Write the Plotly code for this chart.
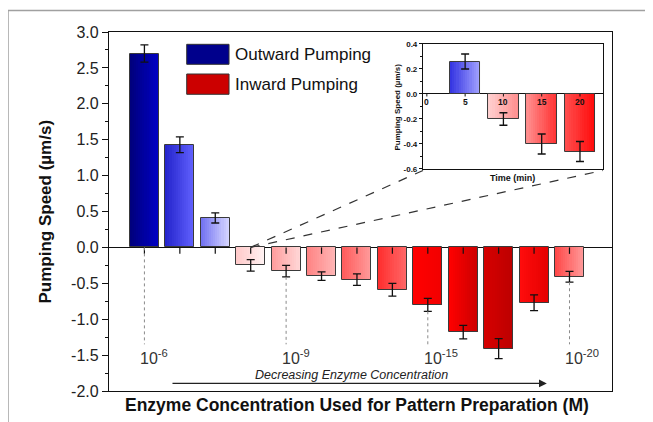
import plotly.graph_objects as go

# ---------------- data ----------------
categories = list(range(13))
speeds = [2.70, 1.43, 0.41, -0.25, -0.33, -0.40, -0.45, -0.59, -0.80, -1.18, -1.41, -0.77, -0.41]
errors = [0.12, 0.11, 0.07, 0.08, 0.08, 0.06, 0.08, 0.09, 0.09, 0.095, 0.14, 0.11, 0.075]
left_colors = ['#00007a', '#2424cc', '#7070f2', '#ffc8c8', '#ff9c9c', '#ff8282', '#ff5c5c',
               '#ff2c2c', '#ff0000', '#ff0000', '#d60000', '#ff0c0c', '#ff4646']
right_colors = ['#0000c8', '#6262ff', '#dadaff', '#fff4f4', '#ffd8d8', '#ffb8b8', '#ff9c9c',
                '#ff6a6a', '#f20000', '#cc0000', '#bc0000', '#e40000', '#ff9c9c']
label_idx = [0, 4, 8, 12]
label_text = ['10<sup>-6</sup>', '10<sup>-9</sup>', '10<sup>-15</sup>', '10<sup>-20</sup>']
y_tickvals = [-2.0, -1.5, -1.0, -0.5, 0.0, 0.5, 1.0, 1.5, 2.0, 2.5, 3.0]
y_ticktext = ['-2.0', '-1.5', '-1.0', '-0.5', '0.0', '0.5', '1.0', '1.5', '2.0', '2.5', '3.0']

inset_time = [5, 10, 15, 20]
inset_speed = [0.26, -0.20, -0.40, -0.46]
inset_err = [0.06, 0.05, 0.08, 0.08]
inset_left = ['#3232e2', '#ffd2d2', '#ff9090', '#ff5050']
inset_right = ['#a4a4ff', '#ff8c8c', '#ff3030', '#ff0808']
inset_ticks = [0, 5, 10, 15, 20]
inset_y_tickvals = [-0.6, -0.4, -0.2, 0.0, 0.2, 0.4]
inset_y_ticktext = ['-0.6', '-0.4', '-0.2', '0.0', '0.2', '0.4']

FONT = 'Liberation Sans, Arial, sans-serif'
XR = [-1.0, 13.2]
YR = [-2.0, 3.0]
XR2 = [-0.5, 23.0]
YR2 = [-0.6, 0.4]
INSET_X = [0.6243, 0.982]
INSET_Y = [0.6184, 0.9666]


def hex2rgb(h):
    h = h.lstrip('#')
    return tuple(int(h[i:i + 2], 16) for i in (0, 2, 4))


def mix(c1, c2, t):
    a, b = hex2rgb(c1), hex2rgb(c2)
    return 'rgb(%d,%d,%d)' % tuple(round(a[i] + (b[i] - a[i]) * t) for i in range(3))


def gradient_bars(fig, xs, ys, errs, lcols, rcols, bw, xa, ya, n=14):
    for k in range(n):
        t = (k + 0.5) / n
        cols = [mix(l, r, t) for l, r in zip(lcols, rcols)]
        w = bw / n * (1.7 if k < n - 1 else 1.0)
        fig.add_trace(go.Bar(x=xs, y=ys, width=w, offset=-bw / 2 + k * bw / n,
                             marker=dict(color=cols, line=dict(width=0)),
                             showlegend=False, hoverinfo='skip', xaxis=xa, yaxis=ya))
    fig.add_trace(go.Bar(x=xs, y=ys, width=bw,
                         marker=dict(color='rgba(0,0,0,0)', line=dict(color='#3a3a3a', width=1)),
                         error_y=dict(type='data', array=errs, color='#111', thickness=1.3, width=4),
                         showlegend=False, hoverinfo='skip', xaxis=xa, yaxis=ya))


fig = go.Figure()

# main bars
gradient_bars(fig, categories, speeds, errors, left_colors, right_colors, 0.82, 'x', 'y')

# small ticks on the zero line
fig.add_trace(go.Scatter(x=categories, y=[0] * len(categories), mode='markers',
                         marker=dict(size=1, color='rgba(0,0,0,0)'),
                         error_y=dict(type='data', symmetric=False, array=[0] * len(categories),
                                      arrayminus=[0.09] * len(categories), width=0,
                                      color='#111', thickness=1.2),
                         showlegend=False, hoverinfo='skip'))

# dotted guide lines to the labels
dx, dy = [], []
for i in label_idx:
    top = min(0.0, speeds[i] - errors[i])
    dx += [categories[i], categories[i], None]
    dy += [top, -1.35, None]
fig.add_trace(go.Scatter(x=dx, y=dy, mode='lines',
                         line=dict(color='#8a8a8a', width=1, dash='dot'),
                         showlegend=False, hoverinfo='skip'))

# inset bars
gradient_bars(fig, inset_time, inset_speed, inset_err, inset_left, inset_right, 4.0, 'x2', 'y2')
fig.add_trace(go.Scatter(x=inset_ticks, y=[0] * len(inset_ticks), mode='markers',
                         marker=dict(size=1, color='rgba(0,0,0,0)'),
                         error_y=dict(type='data', symmetric=False, array=[0] * len(inset_ticks),
                                      arrayminus=[0.02] * len(inset_ticks), width=0,
                                      color='#111', thickness=1),
                         showlegend=False, hoverinfo='skip', xaxis='x2', yaxis='y2'))

annotations = []
for i, txt in zip(label_idx, label_text):
    annotations.append(dict(x=categories[i], y=-1.53, xref='x', yref='y', text=txt,
                            showarrow=False, xanchor='left', xshift=-6, yanchor='middle',
                            font=dict(family=FONT, size=16, color='#333')))
annotations.append(dict(x=5.85, y=-1.78, xref='x', yref='y',
                        text='<i>Decreasing Enzyme Concentration</i>', showarrow=False,
                        xanchor='center', yanchor='middle',
                        font=dict(family=FONT, size=12.5, color='#222')))
annotations.append(dict(x=11.36, y=-1.895, ax=0.75, ay=-1.895, xref='x', yref='y',
                        axref='x', ayref='y', text='', showarrow=True, arrowhead=2,
                        arrowsize=1.3, arrowwidth=1.2, arrowcolor='#222', standoff=0))
for t in inset_ticks:
    annotations.append(dict(x=t, y=0, xref='x2', yref='y2', text='<b>%d</b>' % t,
                            showarrow=False, xanchor='center', yanchor='top', yshift=-1,
                            font=dict(family=FONT, size=8.5, color='#111')))
annotations.append(dict(x=(INSET_X[0] + INSET_X[1]) / 2, y=0.593, xref='paper', yref='paper',
                        text='<b>Time (min)</b>', showarrow=False,
                        xanchor='center', yanchor='middle',
                        font=dict(family=FONT, size=9, color='#111')))
annotations.append(dict(x=0.5745, y=(INSET_Y[0] + INSET_Y[1]) / 2, xref='paper', yref='paper',
                        text='<b>Pumping Speed (\u00b5m/s)</b>', textangle=-90, showarrow=False,
                        xanchor='center', yanchor='middle',
                        font=dict(family=FONT, size=8, color='#111')))
# axis titles
annotations.append(dict(x=-0.1272, y=0.5, xref='paper', yref='paper',
                        text='<b>Pumping Speed (\u00b5m/s)</b>', textangle=-90, showarrow=False,
                        xanchor='center', yanchor='middle',
                        font=dict(family=FONT, size=17, color='#111')))
annotations.append(dict(x=0.494, y=-0.039, xref='paper', yref='paper',
                        text='<b>Enzyme Concentration Used for Pattern Preparation (M)</b>',
                        showarrow=False, xanchor='center', yanchor='middle',
                        font=dict(family=FONT, size=17.5, color='#111')))
# legend text
annotations.append(dict(x=0.2465, y=0.9387, xref='paper', yref='paper', text='Outward Pumping',
                        showarrow=False, xanchor='left', yanchor='middle',
                        font=dict(family=FONT, size=17, color='#111')))
annotations.append(dict(x=0.2465, y=0.855, xref='paper', yref='paper', text='Inward Pumping',
                        showarrow=False, xanchor='left', yanchor='middle',
                        font=dict(family=FONT, size=17, color='#111')))

# dashed zoom lines from the 4th bar to the inset corners
px = (categories[3] - XR[0]) / (XR[1] - XR[0])
py = (0 - YR[0]) / (YR[1] - YR[0])
shapes = [
    dict(type='line', xref='paper', yref='paper', x0=px, y0=py, x1=INSET_X[0], y1=INSET_Y[0] - 0.004,
         line=dict(color='#333', width=1.2, dash='dash')),
    dict(type='line', xref='paper', yref='paper', x0=px, y0=py, x1=INSET_X[1], y1=INSET_Y[0] - 0.004,
         line=dict(color='#333', width=1.2, dash='dash')),
    # legend swatches
    dict(type='rect', xref='paper', yref='paper', x0=0.1545, x1=0.2386, y0=0.910, y1=0.9657,
         fillcolor='#00008c', line=dict(color='#333', width=1)),
    dict(type='rect', xref='paper', yref='paper', x0=0.1545, x1=0.2386, y0=0.8265, y1=0.883,
         fillcolor='#cc0000', line=dict(color='#333', width=1)),
    # outer image frame
    dict(type='line', xref='paper', yref='paper', x0=-0.2008, x1=-0.2008, y0=-0.2, y1=1.0599,
         line=dict(color='#a0a0a0', width=1.5)),
    dict(type='line', xref='paper', yref='paper', x0=-0.2008, x1=1.2, y0=1.0599, y1=1.0599,
         line=dict(color='#a0a0a0', width=1.5)),
]

# the page body adds an 8px margin, so the figure is 8px smaller and shifted
fig.update_layout(
    width=645, height=414,
    margin=dict(l=101, r=41, t=24, b=31),
    paper_bgcolor='white', plot_bgcolor='white',
    barmode='overlay', bargap=0,
    showlegend=False,
    font=dict(family=FONT, color='#222'),
    annotations=annotations, shapes=shapes,
    xaxis=dict(range=XR, showline=True, mirror=True, linecolor='#111', linewidth=1.3,
               showticklabels=False, ticks='', showgrid=False, zeroline=False),
    yaxis=dict(range=YR, tickvals=y_tickvals, ticktext=y_ticktext, showline=True, mirror=True,
               linecolor='#111', linewidth=1.3, ticks='outside', ticklen=6, tickwidth=1.2,
               tickcolor='#111', showgrid=False, zeroline=True, zerolinecolor='#111',
               zerolinewidth=1.2, tickfont=dict(family=FONT, size=16, color='#222'),
               minor=dict(dtick=0.25, tick0=0, ticks='outside', ticklen=3, tickcolor='#111',
                          tickwidth=1.2)),
    xaxis2=dict(domain=INSET_X, anchor='y2', range=XR2, showline=True, mirror=True,
                linecolor='#111', linewidth=1.2, showticklabels=False, ticks='',
                showgrid=False, zeroline=False),
    yaxis2=dict(domain=INSET_Y, anchor='x2', range=YR2, tickvals=inset_y_tickvals,
                ticktext=inset_y_ticktext,
                showline=True, mirror=True, linecolor='#111', linewidth=1.2,
                ticks='outside', ticklen=3, tickwidth=1, tickcolor='#111', showgrid=False,
                zeroline=True, zerolinecolor='#111', zerolinewidth=1.2,
                tickfont=dict(family=FONT, size=8, color='#111', weight='bold'),
                minor=dict(dtick=0.1, tick0=0, ticks='outside', ticklen=2, tickcolor='#111')),
)

fig.write_html('out.html')
